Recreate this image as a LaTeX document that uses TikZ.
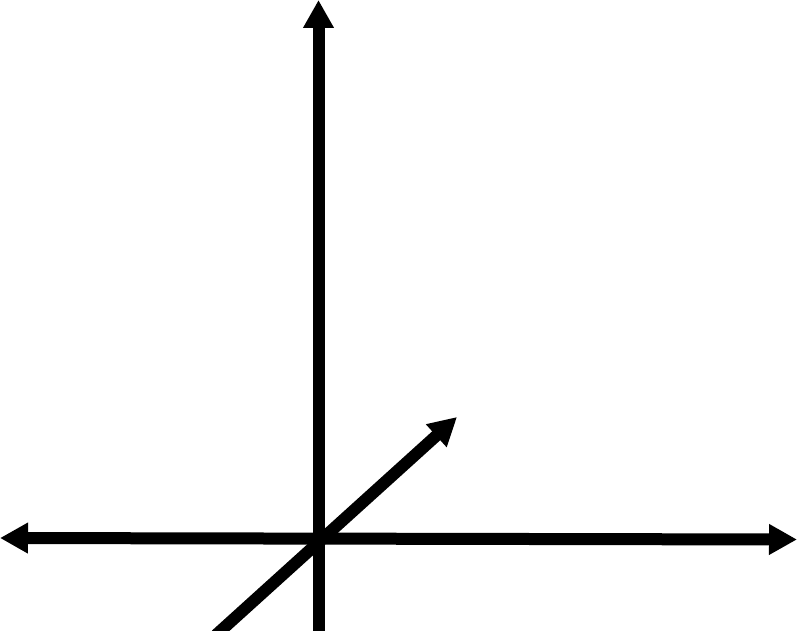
\documentclass[tikz,border=0pt]{standalone}
\usetikzlibrary{arrows.meta}
\begin{document}
\begin{tikzpicture}[x=1pt,y=1pt,
  axis/.style={line width=12pt, draw=black, -{Triangle[length=28pt,width=29pt]}},
  axisboth/.style={line width=12pt, draw=black, {Triangle[length=28pt,width=29pt]}-{Triangle[length=28pt,width=29pt]}}]
\useasboundingbox (0,0) rectangle (797,630);
\coordinate (vb) at (318.5,-5);
\coordinate (vt) at (318.5,630);
\coordinate (hl) at (0,92);
\coordinate (hr) at (797,90.5);
\coordinate (db) at (216,-5);
\coordinate (dt) at (457,213);
\draw[axis] (vb) -- (vt);
\draw[axisboth] (hl) -- (hr);
\draw[axis] (db) -- (dt);
\end{tikzpicture}
\end{document}
